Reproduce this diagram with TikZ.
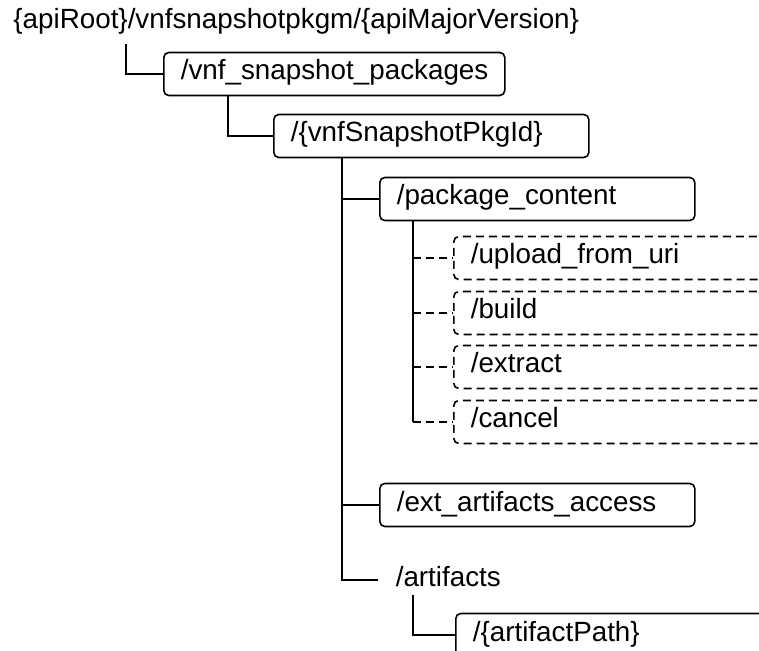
\documentclass[tikz,border=0pt]{standalone}
\usepackage{fontspec}
\setmainfont{Liberation Sans}
\tikzstyle{resource}=[draw, line width=0.8pt, rounded corners=2.5pt, anchor=west, minimum height=21.5pt, inner xsep=8.5pt, text width=140.5pt, align=left, text height=0.75em, text depth=0.15em]
\tikzstyle{optional}=[resource, dash pattern=on 4pt off 2.5pt, text width=163pt]
\tikzstyle{elbow}=[line width=1pt, to path={|- (\tikztotarget)}]
\newcommand{\resource}{\node[resource]}
\newcommand{\optional}{\node[optional]}

\begin{document}
\begin{tikzpicture}[x=0.5pt, y=-0.5pt, font=\fontsize{13.9pt}{16pt}\selectfont]
	\useasboundingbox (0,0) rectangle (759,651);
	\clip (0,0) rectangle (759,651);
	\node[anchor=base west, inner sep=0pt] (0) at (13,29) {\{apiRoot\}/vnfsnapshotpkgm/\{apiMajorVersion\}};
	\resource[text width=153.5pt] (1) at (163,74) {/vnf\_snapshot\_packages};
	\resource (2) at (273,136) {/\{vnfSnapshotPkgId\}};
	\resource (3) at (379,199) {/package\_content};
	\optional (4) at (453,258) {/upload\_from\_uri};
	\optional (5) at (453,313) {/build};
	\optional (6) at (453,367) {/extract};
	\optional (7) at (453,422) {/cancel};
	\resource (8) at (379,505) {/ext\_artifacts\_access};
	\resource[draw=none] (9) at (378,580) {/artifacts};
	\resource[text width=163pt] (10) at (455,635) {/\{artifactPath\}};

	\coordinate (r1) at (126,44);
	\coordinate (r2) at (228,95);
	\coordinate (r3) at (342,157);
	\coordinate (r4) at (413,220);
	\coordinate (r5) at (413,595);

	\path
		(r1) edge[elbow] (1)
		(r2) edge[elbow] (2)
		(r3) edge[elbow] (3)
		(r3) edge[elbow] (8)
		(r3) edge[elbow] (9)
		(r5) edge[elbow] (10)
	;
	\draw[line width=1pt] (r4) -- (r4 |- 7);
	\path[line width=1pt, dash pattern=on 4pt off 2.5pt]
		(r4 |- 4) edge (4)
		(r4 |- 5) edge (5)
		(r4 |- 6) edge (6)
		(r4 |- 7) edge (7)
	;
\end{tikzpicture}
\end{document}
